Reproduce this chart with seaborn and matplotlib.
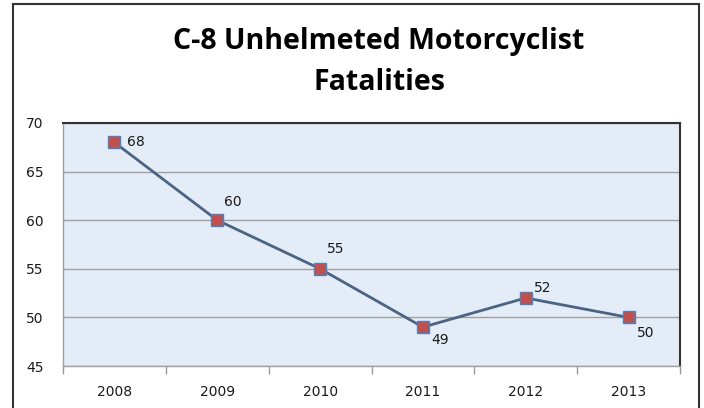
import matplotlib
matplotlib.use("Agg")
import matplotlib.pyplot as plt
from matplotlib.patches import Rectangle
from matplotlib.ticker import FixedLocator
import pandas as pd
import seaborn as sns

years = ["2008", "2009", "2010", "2011", "2012", "2013"]
fatalities = [68, 60, 55, 49, 52, 50]
y_ticks = [45, 50, 55, 60, 65, 70]

# label placement per point (offset in points)
label_offsets = [(9, 0), (5, 8), (5, 9), (6, -4), (6, 2), (6, -6)]
label_va = ["center", "bottom", "bottom", "top", "bottom", "top"]

df = pd.DataFrame({"pos": range(len(years)), "year": years, "value": fatalities})

sns.set_style("white")
plt.rcParams["font.family"] = ["DejaVu Sans"]

fig = plt.figure(figsize=(7.04, 4.08), dpi=100)
ax = fig.add_axes([63 / 704, 42 / 408, 617 / 704, 243 / 408])
ax.set_facecolor("#e4ecf7")

sns.lineplot(data=df, x="pos", y="value", ax=ax, color="#4a6484", linewidth=2,
             marker="s", markersize=8, markerfacecolor="#c0504d",
             markeredgecolor="#4f81bd", markeredgewidth=1, zorder=3)

for i, v in enumerate(fatalities):
    ax.annotate(str(v), (i, v), xytext=label_offsets[i], textcoords="offset points",
                ha="left", va=label_va[i], fontsize=10, color="#1a1a1a")

ax.set_xlim(-0.5, len(years) - 0.5)
ax.set_ylim(45, 70)
ax.set_yticks(y_ticks)
ax.set_xticks(range(len(years)))
ax.set_xticklabels(years)
ax.xaxis.set_minor_locator(FixedLocator([i - 0.5 for i in range(len(years) + 1)]))
ax.tick_params(axis="x", which="major", length=0, pad=14, labelsize=10, colors="#1a1a1a")
ax.tick_params(axis="x", which="minor", bottom=True, length=6, width=1,
               color="#999999", direction="out")
ax.tick_params(axis="y", length=0, pad=14, labelsize=10, colors="#1a1a1a")
ax.grid(axis="y", color="#a0a0a0", linewidth=1)
ax.set_axisbelow(True)
ax.set_xlabel("")
ax.set_ylabel("")

for side in ["left", "bottom"]:
    ax.spines[side].set_color("#a0a0a0")
    ax.spines[side].set_linewidth(1)
for side in ["top", "right"]:
    ax.spines[side].set_color("#333333")
    ax.spines[side].set_linewidth(1.5)

fig.text(379 / 704, 1 - 49 / 408, "C-8 Unhelmeted Motorcyclist", ha="center", va="baseline",
         fontsize=20.5, fontweight="bold", family="Open Sans", color="black")
fig.text(379 / 704, 1 - 90 / 408, "Fatalities", ha="center", va="baseline",
         fontsize=20.5, fontweight="bold", family="Open Sans", color="black")

fig.patches.append(Rectangle((13 / 704, -0.05), 686 / 704, 1.05 - 4 / 408,
                             transform=fig.transFigure, fill=False,
                             edgecolor="#333333", linewidth=1.5))

fig.savefig("out.png", dpi=100)
